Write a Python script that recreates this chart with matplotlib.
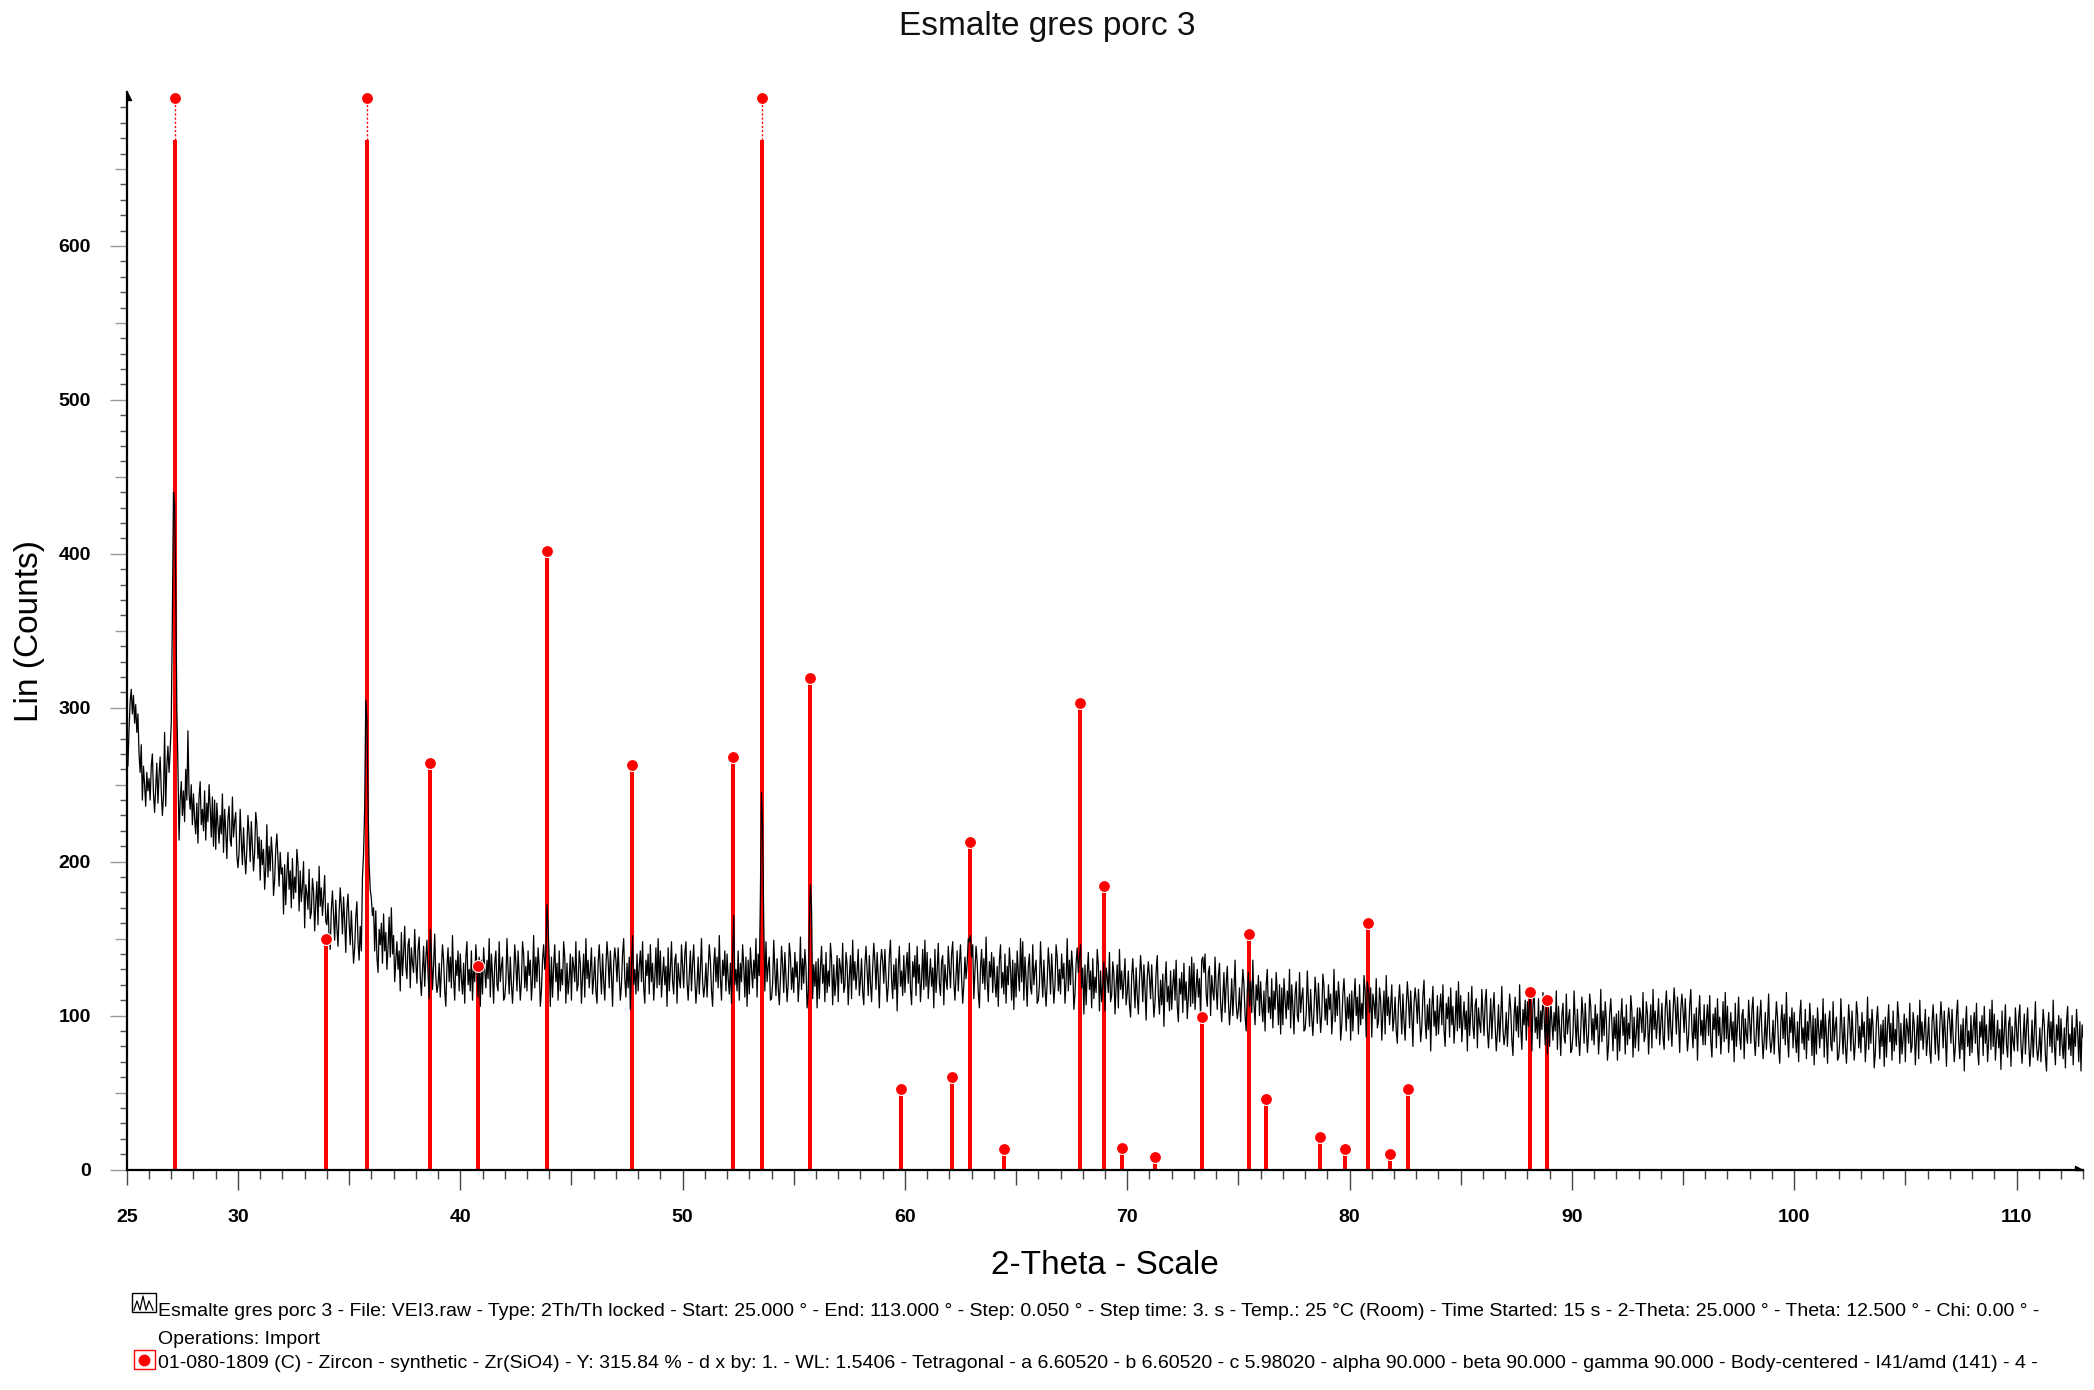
import numpy as np
import matplotlib
matplotlib.use("Agg")
import matplotlib.pyplot as plt
from matplotlib.patches import Rectangle
from matplotlib.lines import Line2D
from matplotlib.path import Path
from matplotlib.ticker import MultipleLocator, FuncFormatter

plt.rcParams['font.family'] = ['Liberation Sans', 'DejaVu Sans']

# ---------------- data ----------------
title = "Esmalte gres porc 3"
x_label = "2-Theta - Scale"
y_label = "Lin (Counts)"

scan_step = 0.05       # degrees between readings (from the scan header)

# counts, one row per whole degree of 2-theta (25 ... 113)
scan_rows = {
    25: [268, 262, 286, 304, 312, 296, 308, 290, 302, 284, 296, 270, 258, 276, 240, 262, 250, 236, 258, 246],
    26: [254, 240, 262, 270, 244, 232, 248, 264, 238, 256, 268, 246, 230, 242, 284, 236, 262, 275, 258, 272],
    27: [290, 360, 440, 432, 380, 300, 262, 214, 240, 252, 230, 246, 226, 260, 240, 285, 244, 234, 250, 224],
    28: [244, 228, 218, 238, 212, 242, 252, 224, 234, 220, 246, 214, 238, 226, 250, 236, 216, 242, 210, 240],
    29: [208, 238, 224, 212, 230, 218, 244, 206, 234, 220, 202, 228, 236, 214, 210, 242, 216, 226, 232, 204],
    30: [196, 206, 234, 214, 198, 222, 204, 192, 208, 230, 218, 200, 226, 210, 194, 206, 232, 224, 202, 216],
    31: [188, 214, 198, 208, 182, 196, 224, 190, 210, 194, 216, 204, 178, 188, 208, 218, 202, 184, 206, 192],
    32: [196, 166, 198, 172, 192, 206, 182, 194, 170, 202, 176, 190, 180, 208, 198, 168, 194, 174, 184, 200],
    33: [157, 185, 179, 169, 195, 163, 167, 189, 181, 155, 173, 187, 159, 197, 171, 183, 165, 177, 191, 161],
    34: [159, 173, 151, 143, 169, 181, 165, 149, 175, 157, 145, 167, 183, 171, 153, 177, 161, 141, 169, 179],
    35: [160, 146, 168, 150, 134, 144, 164, 174, 148, 136, 158, 142, 190, 205, 235, 305, 292, 240, 198, 182],
    36: [176, 165, 170, 142, 168, 138, 128, 156, 146, 160, 134, 166, 142, 154, 130, 144, 164, 138, 170, 140],
    37: [152, 122, 136, 148, 130, 142, 116, 154, 126, 140, 158, 132, 124, 146, 150, 118, 144, 134, 128, 156],
    38: [135, 121, 143, 151, 125, 113, 129, 145, 119, 137, 149, 127, 111, 156, 141, 117, 133, 153, 125, 115],
    39: [120, 134, 112, 130, 146, 136, 116, 106, 132, 144, 122, 138, 118, 152, 124, 110, 136, 126, 142, 116],
    40: [140, 124, 114, 134, 108, 138, 148, 120, 130, 116, 142, 110, 134, 122, 146, 132, 112, 138, 106, 136],
    41: [114, 144, 130, 118, 136, 124, 150, 112, 140, 126, 108, 134, 142, 120, 116, 148, 122, 132, 138, 110],
    42: [112, 122, 150, 130, 114, 138, 120, 108, 124, 146, 134, 116, 142, 126, 110, 122, 148, 140, 118, 132],
    43: [116, 142, 126, 136, 110, 124, 152, 118, 138, 122, 144, 132, 106, 116, 136, 146, 130, 140, 172, 158],
    44: [136, 106, 138, 112, 132, 146, 122, 134, 110, 142, 116, 130, 120, 148, 138, 108, 134, 114, 124, 140],
    45: [110, 138, 132, 122, 148, 116, 120, 142, 134, 108, 126, 140, 112, 150, 124, 136, 118, 130, 144, 114],
    46: [124, 138, 116, 108, 134, 146, 130, 114, 140, 122, 110, 132, 148, 136, 118, 142, 126, 106, 134, 144],
    47: [136, 122, 144, 126, 110, 120, 140, 150, 124, 112, 134, 118, 138, 104, 132, 152, 120, 130, 114, 140],
    48: [116, 132, 142, 122, 148, 118, 108, 136, 126, 140, 114, 146, 122, 134, 110, 124, 144, 118, 150, 120],
    49: [142, 112, 126, 138, 120, 132, 106, 144, 116, 130, 148, 122, 114, 136, 140, 108, 134, 124, 118, 146],
    50: [132, 118, 140, 148, 122, 110, 126, 142, 116, 134, 146, 124, 108, 120, 138, 114, 130, 150, 122, 112],
    51: [120, 134, 112, 130, 146, 136, 116, 106, 132, 144, 122, 138, 118, 152, 124, 110, 136, 126, 142, 116],
    52: [140, 124, 114, 134, 108, 140, 165, 120, 130, 116, 142, 110, 134, 122, 146, 132, 112, 138, 106, 136],
    53: [114, 144, 130, 118, 136, 124, 150, 112, 140, 126, 178, 245, 222, 160, 116, 148, 122, 132, 138, 110],
    54: [111, 121, 149, 129, 113, 137, 119, 107, 123, 145, 133, 115, 141, 125, 109, 121, 147, 139, 117, 131],
    55: [115, 141, 125, 135, 109, 123, 151, 117, 137, 121, 143, 131, 105, 115, 158, 185, 170, 111, 133, 119],
    56: [135, 105, 137, 111, 131, 145, 121, 133, 109, 141, 115, 129, 119, 147, 137, 107, 133, 113, 123, 139],
    57: [109, 137, 131, 121, 147, 115, 119, 141, 133, 107, 125, 139, 111, 149, 123, 135, 117, 129, 143, 113],
    58: [123, 137, 115, 107, 133, 145, 129, 113, 139, 121, 109, 131, 147, 135, 117, 141, 125, 105, 133, 143],
    59: [135, 121, 143, 125, 109, 119, 139, 149, 123, 111, 133, 117, 137, 103, 131, 145, 119, 129, 113, 139],
    60: [115, 131, 141, 121, 147, 117, 107, 135, 125, 139, 113, 145, 121, 133, 109, 123, 143, 117, 149, 119],
    61: [141, 111, 125, 137, 119, 131, 105, 143, 115, 129, 147, 121, 113, 135, 139, 107, 133, 123, 117, 145],
    62: [132, 118, 140, 148, 122, 110, 126, 142, 116, 134, 146, 124, 108, 120, 138, 124, 134, 150, 148, 152],
    63: [138, 146, 111, 129, 145, 135, 115, 105, 131, 143, 121, 137, 117, 151, 123, 109, 135, 125, 141, 115],
    64: [138, 122, 112, 132, 106, 136, 146, 118, 128, 114, 140, 108, 132, 120, 144, 130, 110, 136, 104, 134],
    65: [112, 142, 128, 116, 150, 122, 148, 110, 138, 124, 106, 132, 140, 118, 114, 146, 120, 130, 136, 108],
    66: [110, 120, 148, 128, 112, 136, 118, 106, 122, 144, 132, 114, 140, 124, 108, 120, 146, 138, 116, 130],
    67: [114, 140, 124, 134, 108, 122, 150, 116, 136, 120, 142, 130, 104, 114, 134, 144, 128, 138, 146, 118],
    68: [131, 101, 133, 107, 127, 141, 117, 129, 105, 137, 111, 125, 115, 143, 133, 103, 129, 109, 119, 135],
    69: [103, 131, 125, 115, 141, 109, 113, 135, 127, 101, 119, 133, 105, 143, 117, 129, 111, 123, 137, 107],
    70: [115, 129, 107, 99, 125, 137, 121, 105, 131, 113, 101, 123, 139, 127, 109, 133, 117, 97, 125, 135],
    71: [125, 111, 133, 115, 99, 109, 129, 139, 113, 101, 123, 107, 127, 93, 121, 135, 109, 119, 103, 129],
    72: [104, 120, 130, 110, 136, 106, 96, 124, 114, 128, 102, 134, 110, 122, 98, 112, 132, 106, 138, 108],
    73: [134, 104, 118, 130, 112, 124, 98, 136, 138, 128, 140, 114, 106, 128, 132, 100, 126, 116, 110, 138],
    74: [118, 104, 126, 134, 108, 96, 112, 128, 102, 120, 132, 110, 94, 106, 124, 100, 116, 136, 108, 98],
    75: [104, 118, 96, 114, 130, 120, 100, 90, 116, 128, 106, 122, 102, 136, 108, 94, 120, 110, 126, 100],
    76: [122, 106, 96, 116, 90, 120, 130, 102, 112, 98, 124, 92, 116, 104, 128, 114, 94, 120, 88, 118],
    77: [94, 124, 110, 98, 116, 104, 130, 92, 120, 106, 88, 114, 122, 100, 96, 128, 102, 112, 118, 90],
    78: [91, 101, 129, 109, 93, 117, 99, 87, 103, 125, 113, 95, 121, 105, 89, 101, 127, 119, 97, 111],
    79: [94, 120, 104, 114, 88, 102, 130, 96, 116, 100, 122, 110, 84, 94, 114, 124, 108, 90, 112, 98],
    80: [114, 84, 116, 90, 110, 124, 100, 112, 88, 120, 94, 108, 98, 126, 116, 86, 122, 116, 102, 118],
    81: [86, 114, 108, 98, 124, 92, 96, 118, 110, 84, 102, 116, 88, 126, 100, 112, 94, 106, 120, 90],
    82: [98, 112, 90, 82, 108, 120, 104, 88, 114, 96, 84, 106, 122, 110, 92, 116, 100, 80, 108, 118],
    83: [109, 95, 117, 99, 83, 93, 113, 123, 97, 85, 107, 91, 111, 77, 105, 119, 93, 103, 87, 113],
    84: [88, 104, 114, 94, 120, 90, 80, 108, 98, 112, 86, 118, 94, 106, 82, 96, 116, 90, 122, 92],
    85: [113, 83, 97, 109, 91, 103, 77, 115, 87, 101, 119, 93, 85, 107, 111, 79, 105, 95, 89, 117],
    86: [101, 87, 109, 117, 91, 79, 95, 111, 85, 103, 115, 93, 77, 89, 107, 83, 99, 119, 91, 81],
    87: [88, 102, 80, 98, 114, 104, 84, 74, 100, 112, 90, 106, 86, 120, 92, 78, 104, 94, 110, 84],
    88: [109, 93, 112, 108, 77, 107, 117, 89, 99, 85, 111, 79, 103, 91, 115, 101, 81, 107, 75, 105],
    89: [80, 110, 96, 84, 102, 90, 116, 78, 106, 92, 74, 100, 108, 86, 82, 114, 88, 98, 104, 76],
    90: [78, 88, 116, 96, 80, 104, 86, 74, 90, 112, 100, 82, 108, 92, 76, 88, 114, 106, 84, 98],
    91: [81, 107, 91, 101, 75, 89, 117, 83, 103, 87, 109, 97, 71, 81, 101, 111, 95, 77, 99, 85],
    92: [101, 71, 103, 77, 97, 111, 87, 99, 75, 107, 81, 95, 85, 113, 103, 73, 99, 79, 89, 105],
    93: [77, 105, 99, 89, 115, 83, 87, 109, 101, 75, 93, 107, 79, 117, 91, 103, 85, 97, 111, 81],
    94: [94, 108, 86, 78, 104, 116, 100, 84, 110, 92, 80, 102, 118, 106, 88, 112, 96, 76, 104, 114],
    95: [103, 89, 111, 93, 77, 87, 107, 117, 91, 79, 101, 85, 105, 71, 99, 113, 87, 97, 81, 107],
    96: [81, 97, 107, 87, 113, 83, 73, 101, 91, 105, 79, 111, 87, 99, 75, 89, 109, 83, 115, 85],
    97: [106, 76, 90, 102, 84, 96, 70, 108, 80, 94, 112, 86, 78, 100, 104, 72, 98, 88, 82, 110],
    98: [96, 82, 104, 112, 86, 74, 90, 106, 80, 98, 110, 88, 72, 84, 102, 78, 94, 114, 86, 76],
    99: [83, 97, 75, 93, 109, 99, 79, 69, 95, 107, 85, 101, 81, 115, 87, 73, 99, 89, 105, 79],
    100: [102, 86, 76, 96, 70, 100, 110, 82, 92, 78, 104, 72, 96, 84, 108, 94, 74, 100, 68, 98],
    101: [75, 105, 91, 79, 97, 85, 111, 73, 101, 87, 69, 95, 103, 81, 77, 109, 83, 93, 99, 71],
    102: [73, 83, 111, 91, 75, 99, 81, 69, 85, 107, 95, 77, 103, 87, 71, 83, 109, 101, 79, 93],
    103: [76, 102, 86, 96, 70, 84, 112, 78, 98, 82, 104, 92, 66, 76, 96, 106, 90, 72, 94, 80],
    104: [97, 67, 99, 73, 93, 107, 83, 95, 71, 103, 77, 91, 81, 109, 99, 69, 95, 75, 85, 101],
    105: [70, 98, 92, 82, 108, 76, 80, 102, 94, 68, 86, 100, 72, 110, 84, 96, 78, 90, 104, 74],
    106: [85, 99, 77, 69, 95, 107, 91, 75, 101, 83, 71, 93, 109, 97, 79, 103, 87, 67, 95, 105],
    107: [96, 82, 104, 86, 70, 80, 100, 110, 84, 72, 94, 78, 98, 64, 92, 106, 80, 90, 74, 100],
    108: [76, 92, 102, 82, 108, 78, 68, 96, 86, 100, 74, 106, 82, 94, 70, 84, 104, 78, 110, 80],
    109: [101, 71, 85, 97, 79, 91, 65, 103, 75, 89, 107, 81, 73, 95, 99, 67, 93, 83, 77, 105],
    110: [91, 77, 99, 107, 81, 69, 85, 101, 75, 93, 105, 83, 67, 79, 97, 73, 89, 109, 81, 71],
    111: [78, 92, 70, 88, 104, 94, 74, 64, 90, 102, 80, 96, 76, 110, 82, 68, 94, 84, 100, 74],
    112: [98, 82, 72, 92, 66, 96, 106, 78, 88, 74, 100, 68, 92, 80, 104, 90, 70, 96, 64, 94],
    113: [86],
}

# Zircon reference pattern (01-080-1809), positions and scaled intensities
stick_pos = [27.15, 33.95, 35.79, 38.64, 40.80, 43.90, 47.72, 52.27, 53.57,
             55.73, 59.83, 62.12, 62.93, 64.46, 67.88, 68.97, 69.78, 71.26,
             73.37, 75.48, 76.25, 78.67, 79.79, 80.83, 81.82, 82.63, 88.11,
             88.86]
stick_int = [1270, 150, 1100, 264, 132, 402, 263, 268, 900,
             319, 52, 60, 213, 13, 303, 184, 14, 8,
             99, 153, 46, 21, 13, 160, 10, 52, 115,
             110]

x_min, x_max = 25, 113
y_min, y_max = 0, 700
x_label_ticks = [25, 30, 40, 50, 60, 70, 80, 90, 100, 110]

legend_scan = ("Esmalte gres porc 3 - File: VEI3.raw - Type: 2Th/Th locked - Start: 25.000 \u00b0 - "
               "End: 113.000 \u00b0 - Step: 0.050 \u00b0 - Step time: 3. s - Temp.: 25 \u00b0C (Room) - "
               "Time Started: 15 s - 2-Theta: 25.000 \u00b0 - Theta: 12.500 \u00b0 - Chi: 0.00 \u00b0 -")
legend_ops = "Operations: Import"
legend_pdf = ("01-080-1809 (C) - Zircon - synthetic - Zr(SiO4) - Y: 315.84 % - d x by: 1. - WL: 1.5406 - "
              "Tetragonal - a 6.60520 - b 6.60520 - c 5.98020 - alpha 90.000 - beta 90.000 - "
              "gamma 90.000 - Body-centered - I41/amd (141) - 4 -")

# ---------------- figure ----------------
W, H = 2094, 1390
fig = plt.figure(figsize=(W / 100, H / 100), dpi=100)
fx = lambda px: px / W
fy = lambda py: 1 - py / H

ax_l, ax_r, ax_t, ax_b = 126.8, 2083.2, 92.0, 1169.5
ax = fig.add_axes([fx(ax_l), fy(ax_b), fx(ax_r) - fx(ax_l), fy(ax_t) - fy(ax_b)])
ax.set_xlim(x_min, x_max)
ax.set_ylim(y_min, y_max)

RED = '#ff0000'
clip_solid = 669     # solid part of an off-scale stick ends here
clip_dot = 696       # marker height for off-scale sticks

pos = np.array(stick_pos)
inten = np.array(stick_int, dtype=float)
off = inten > y_max
ax.vlines(pos, 0, np.minimum(inten, clip_solid), colors=RED, lw=2.9, zorder=2)
ax.vlines(pos[off], clip_solid, clip_dot, colors=RED, lw=1.0, linestyles=(0, (1.5, 1.5)), zorder=2)
ax.plot(pos, np.where(off, clip_dot, inten), 'o', color=RED, ms=8.6,
        mec='white', mew=0.8, zorder=4, clip_on=False)

two_theta, counts = [], []
for deg in sorted(scan_rows):
    row = scan_rows[deg]
    two_theta.extend(deg + scan_step * i for i in range(len(row)))
    counts.extend(row)
ax.plot(two_theta, counts, color='black', lw=0.9, zorder=3)

# spines
for s in ('top', 'right'):
    ax.spines[s].set_visible(False)
for s in ('left', 'bottom'):
    ax.spines[s].set_linewidth(1.6)
    ax.spines[s].set_color('black')

# axis arrows
up_arrow = Path([(0, 0), (0, -1), (0.55, -1), (0, 0)], [Path.MOVETO, Path.LINETO, Path.LINETO, Path.CLOSEPOLY])
right_arrow = Path([(0, 0), (-1, 0), (-1, 0.55), (0, 0)], [Path.MOVETO, Path.LINETO, Path.LINETO, Path.CLOSEPOLY])
ax.plot([0], [1], marker=up_arrow, ms=11, color='black', transform=ax.transAxes, clip_on=False, zorder=5)
ax.plot([1], [0], marker=right_arrow, ms=11, color='black', transform=ax.transAxes, clip_on=False, zorder=5)

px2pt = 0.72
# x ticks
ax.xaxis.set_major_locator(MultipleLocator(5))
ax.xaxis.set_minor_locator(MultipleLocator(1))
ax.xaxis.set_major_formatter(FuncFormatter(lambda v, p: f"{v:.0f}" if round(v) in x_label_ticks else ""))
ax.tick_params(axis='x', which='major', direction='out', length=20 * px2pt, width=1.0,
               color='#444444', pad=19 * px2pt, labelsize=14)
ax.tick_params(axis='x', which='minor', direction='out', length=9 * px2pt, width=1.0, color='#444444')
# y ticks
ax.yaxis.set_major_locator(MultipleLocator(50))
ax.yaxis.set_minor_locator(MultipleLocator(10))
ax.yaxis.set_major_formatter(FuncFormatter(lambda v, p: f"{v:.0f}" if (round(v) % 100 == 0 and v < y_max) else ""))
ax.tick_params(axis='y', which='major', direction='out', length=17 * px2pt, width=1.0,
               color='#9a9a9a', pad=19 * px2pt, labelsize=14)
ax.tick_params(axis='y', which='minor', direction='out', length=7 * px2pt, width=1.0, color='#555555')
for lab in ax.get_xticklabels() + ax.get_yticklabels():
    lab.set_fontweight('bold')

fig.canvas.draw()
xlocs = ax.xaxis.get_majorticklocs()
for t, v in zip(ax.xaxis.get_major_ticks(len(xlocs)), xlocs):
    if round(v) % 10 != 0:
        t.tick1line.set_markersize(15 * px2pt)
ylocs = ax.yaxis.get_majorticklocs()
for t, v in zip(ax.yaxis.get_major_ticks(len(ylocs)), ylocs):
    if round(v) % 100 != 0:
        t.tick1line.set_markersize(12 * px2pt)
    if v >= y_max:
        t.tick1line.set_visible(False)

# labels
ax.set_xlabel(x_label, fontsize=24, va='center')
ax.xaxis.set_label_coords(0.5, -(1265 - ax_b) / (ax_b - ax_t))
ax.set_ylabel(y_label, fontsize=24, va='center')
ax.yaxis.set_label_coords((30 - ax_l) / (ax_r - ax_l), 0.5)
fig.text(0.5, fy(27), title, ha='center', va='center', fontsize=24, color='#111111')

# legend block
fs_leg = 14
fig.text(fx(158), fy(1311), legend_scan, ha='left', va='center', fontsize=fs_leg)
fig.text(fx(158), fy(1339), legend_ops, ha='left', va='center', fontsize=fs_leg)
fig.text(fx(158), fy(1364), legend_pdf, ha='left', va='center', fontsize=fs_leg)

# legend icons
fig.add_artist(Rectangle((fx(132), fy(1312)), fx(156) - fx(132), fy(1293) - fy(1312),
                         transform=fig.transFigure, fill=False, ec='black', lw=1.0))
fig.add_artist(Line2D([fx(134), fx(137), fx(140), fx(143), fx(146), fx(149), fx(153)],
                      [fy(1310), fy(1301), fy(1310), fy(1296), fy(1310), fy(1301), fy(1310)],
                      transform=fig.transFigure, color='black', lw=0.9))
fig.add_artist(Rectangle((fx(133.5), fy(1369)), fx(155) - fx(133.5), fy(1350) - fy(1369),
                         transform=fig.transFigure, fill=False, ec=RED, lw=1.0))
fig.add_artist(Line2D([fx(144.2)], [fy(1359.5)], marker='o', ms=7.5, color=RED,
                      transform=fig.transFigure))

fig.savefig("out.png", dpi=100)
